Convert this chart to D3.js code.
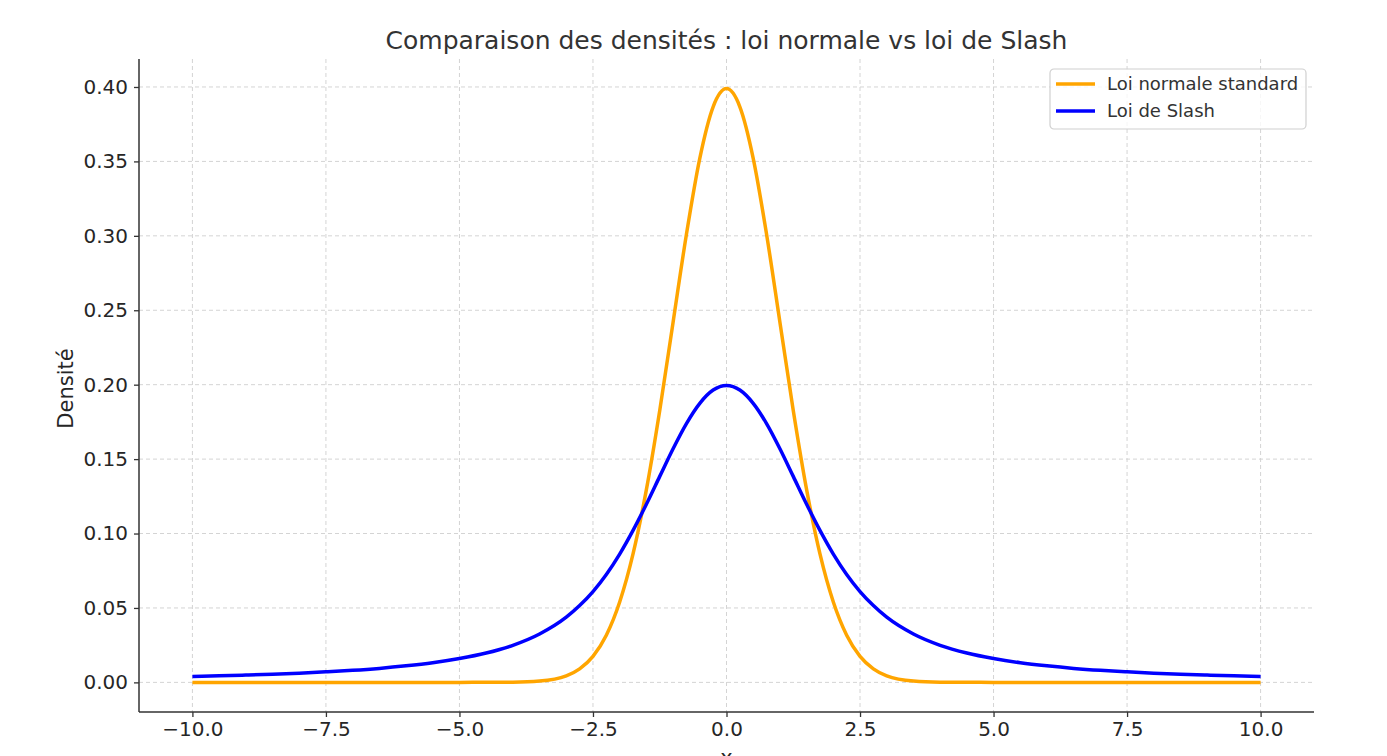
<!DOCTYPE html>
<html>
<head>
<meta charset="utf-8">
<script src="https://cdn.jsdelivr.net/npm/d3@7"></script>
<style>
  body { margin: 0; background: #fff; }
  svg { font-family: "DejaVu Sans", sans-serif; }
</style>
</head>
<body>
<svg id="chart" width="1387" height="756"></svg>
<script>
// valeurs
var xValues = [-10, -9.5, -9, -8.5, -8, -7.5, -7, -6.5, -6, -5.5, -5, -4.5, -4, -3.5,
  -3, -2.75, -2.5, -2.25, -2, -1.75, -1.5, -1.25, -1, -0.75, -0.5, -0.25, 0,
  0.25, 0.5, 0.75, 1, 1.25, 1.5, 1.75, 2, 2.25, 2.5, 2.75, 3,
  3.5, 4, 4.5, 5, 5.5, 6, 6.5, 7, 7.5, 8, 8.5, 9, 9.5, 10];

var normalValues = [0, 0, 0, 0, 0, 0, 0, 0, 0, 0, 0, 0.00002, 0.00013, 0.00087,
  0.0044, 0.0091, 0.0175, 0.0317, 0.0540, 0.0863, 0.1295, 0.1827, 0.2420, 0.3011, 0.3521, 0.3867, 0.3989,
  0.3867, 0.3521, 0.3011, 0.2420, 0.1827, 0.1295, 0.0863, 0.0540, 0.0317, 0.0175, 0.0091, 0.0044,
  0.00087, 0.00013, 0.00002, 0, 0, 0, 0, 0, 0, 0, 0, 0, 0, 0];

var slashValues = [0.0040, 0.0044, 0.0049, 0.0055, 0.0062, 0.0071, 0.0081, 0.0094, 0.0111, 0.0132, 0.0160, 0.0197, 0.0249, 0.0325,
  0.0438, 0.0516, 0.0610, 0.0725, 0.0862, 0.1021, 0.1197, 0.1384, 0.1570, 0.1739, 0.1875, 0.1964, 0.1995,
  0.1964, 0.1875, 0.1739, 0.1570, 0.1384, 0.1197, 0.1021, 0.0862, 0.0725, 0.0610, 0.0516, 0.0438,
  0.0325, 0.0249, 0.0197, 0.0160, 0.0132, 0.0111, 0.0094, 0.0081, 0.0071, 0.0062, 0.0055, 0.0049, 0.0044, 0.0040];

var xTicks = [-10, -7.5, -5, -2.5, 0, 2.5, 5, 7.5, 10];
var yTicks = [0, 0.05, 0.10, 0.15, 0.20, 0.25, 0.30, 0.35, 0.40];

var seriesNames = ["Loi normale standard", "Loi de Slash"];
var seriesColors = ["orange", "blue"];

var svg = d3.select("#chart");
var margin = { left: 139, right: 73, top: 59, bottom: 44 };
var W = 1387, H = 756;

var x = d3.scaleLinear().domain([-11, 11]).range([margin.left, W - margin.right]);
var y = d3.scaleLinear().domain([-0.0199, 0.4188]).range([H - margin.bottom, margin.top]);

// grille
var grid = svg.append("g").attr("stroke", "#d4d4d4").attr("stroke-width", 1).attr("stroke-dasharray", "4,3");
xTicks.forEach(function (t) {
  grid.append("line").attr("x1", x(t)).attr("x2", x(t)).attr("y1", margin.top).attr("y2", H - margin.bottom);
});
yTicks.forEach(function (t) {
  grid.append("line").attr("x1", margin.left).attr("x2", W - margin.right).attr("y1", y(t)).attr("y2", y(t));
});

// axes
var xAxis = svg.append("g")
  .attr("transform", "translate(0," + (H - margin.bottom) + ")")
  .call(d3.axisBottom(x).tickValues(xTicks).tickFormat(function (d) { return d.toFixed(1).replace("-", "\u2212"); }).tickSize(5).tickPadding(5));
var yAxis = svg.append("g")
  .attr("transform", "translate(" + margin.left + ",0)")
  .call(d3.axisLeft(y).tickValues(yTicks).tickFormat(function (d) { return d.toFixed(2); }).tickSize(5).tickPadding(6));

[xAxis, yAxis].forEach(function (a) {
  a.select(".domain").attr("stroke", "#333").attr("stroke-width", 1.5);
  a.selectAll(".tick line").attr("stroke", "#333").attr("stroke-width", 1.3);
  a.selectAll(".tick text").attr("fill", "#262626").style("font-size", "20px").style("font-family", "DejaVu Sans");
});
xAxis.select(".domain").attr("d", "M" + margin.left + ",0H" + (W - margin.right));
yAxis.select(".domain").attr("d", "M0," + margin.top + "V" + (H - margin.bottom));

// courbes
var line = d3.line()
  .x(function (d) { return x(d[0]); })
  .y(function (d) { return y(d[1]); })
  .curve(d3.curveMonotoneX);

[normalValues, slashValues].forEach(function (vals, i) {
  svg.append("path")
    .datum(xValues.map(function (v, j) { return [v, vals[j]]; }))
    .attr("fill", "none")
    .attr("stroke", seriesColors[i])
    .attr("stroke-width", 3.5)
    .attr("stroke-linejoin", "round")
    .attr("d", line);
});

// titre et libellés
svg.append("text")
  .attr("x", x(0)).attr("y", 49)
  .attr("text-anchor", "middle")
  .attr("fill", "#333")
  .style("font-size", "25px")
  .text("Comparaison des densités : loi normale vs loi de Slash");

svg.append("text")
  .attr("transform", "translate(73," + ((margin.top + H - margin.bottom) / 2 + 3) + ") rotate(-90)")
  .attr("text-anchor", "middle")
  .attr("fill", "#262626")
  .style("font-size", "21px")
  .text("Densité");

svg.append("text")
  .attr("x", x(0)).attr("y", 765)
  .attr("text-anchor", "middle")
  .attr("fill", "#262626")
  .style("font-size", "21px")
  .text("x");

// légende
var lg = svg.append("g").attr("transform", "translate(1050,69)");
lg.append("rect").attr("width", 256).attr("height", 60).attr("rx", 4)
  .attr("fill", "white").attr("fill-opacity", 0.8).attr("stroke", "#d0d0d0").attr("stroke-width", 1.2);
seriesNames.forEach(function (n, i) {
  var yy = 15 + i * 27;
  lg.append("line").attr("x1", 6).attr("x2", 45).attr("y1", yy).attr("y2", yy)
    .attr("stroke", seriesColors[i]).attr("stroke-width", 3.5);
  lg.append("text").attr("x", 57).attr("y", yy + 6)
    .attr("fill", "#333").style("font-size", "18px").text(n);
});
</script>
</body>
</html>
